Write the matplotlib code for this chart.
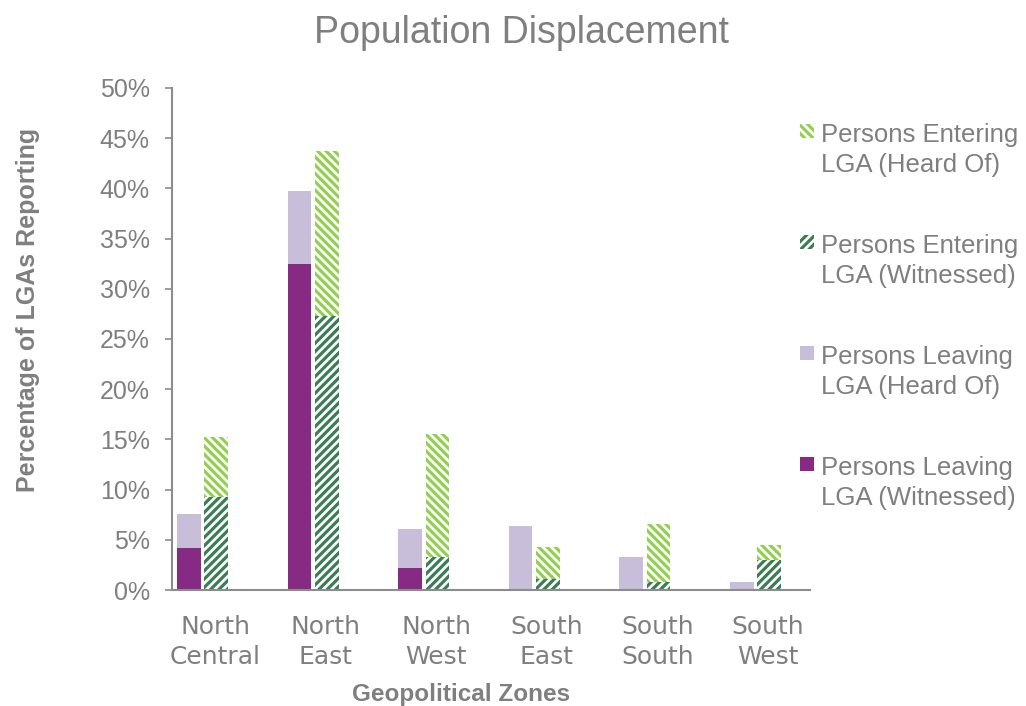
import numpy as np
import matplotlib.pyplot as plt
from matplotlib.patches import Rectangle

zones = ['North\nCentral', 'North\nEast', 'North\nWest', 'South\nEast', 'South\nSouth', 'South\nWest']
leaving_witnessed = [4.2, 32.5, 2.2, 0.0, 0.0, 0.0]
leaving_heard = [3.4, 7.2, 3.9, 6.4, 3.3, 0.8]
entering_witnessed = [9.3, 27.3, 3.3, 1.1, 0.8, 3.0]
entering_heard = [5.9, 16.4, 12.2, 3.2, 5.8, 1.5]

legend_labels = [('Persons Entering', 'LGA (Heard Of)'),
                 ('Persons Entering', 'LGA (Witnessed)'),
                 ('Persons Leaving', 'LGA (Heard Of)'),
                 ('Persons Leaving', 'LGA (Witnessed)')]

purple = '#862A84'
lavender = '#C9BEDA'
light_green = '#92D050'
dark_green = '#3C7D55'
grey = '#7F7F7F'

plt.rcParams['hatch.linewidth'] = 2.3
plt.rcParams['font.family'] = ['Liberation Sans', 'DejaVu Sans']

W, H = 1026, 706
fig = plt.figure(figsize=(W / 100, H / 100), dpi=100)
ax = fig.add_axes([172 / W, 1 - 590 / H, (810 - 172) / W, (590 - 88) / H])

x = np.arange(len(zones))
w = 0.2125
off = 0.124

ax.bar(x - off, leaving_witnessed, w, color=purple, linewidth=0)
ax.bar(x - off, leaving_heard, w, bottom=leaving_witnessed, color=lavender, linewidth=0)
ax.bar(x + off, entering_witnessed, w, facecolor='white', edgecolor=dark_green,
       hatch='////', linewidth=0)
ax.bar(x + off, entering_heard, w, bottom=entering_witnessed, facecolor='white',
       edgecolor=light_green, hatch='\\\\\\\\', linewidth=0)

ax.set_xlim(-0.276, 5.493)
ax.set_ylim(0, 50)
ax.set_yticks(np.arange(0, 51, 5))
ax.set_yticklabels(['%d%%' % v for v in range(0, 51, 5)], fontsize=18, color=grey)
ax.set_xticks(x + 0.113)
ax.set_xticklabels(zones, fontsize=18, color=grey, family='DejaVu Sans', linespacing=1.3)
ax.tick_params(axis='x', length=0, pad=18)
ax.tick_params(axis='y', length=5, width=1.2, color='#8C8C8C', pad=11)

for s in ['top', 'right']:
    ax.spines[s].set_visible(False)
for s in ['left', 'bottom']:
    ax.spines[s].set_color('#8C8C8C')
    ax.spines[s].set_linewidth(1.5)

fig.text(28 / W, 1 - 310 / H, 'Percentage of LGAs Reporting', rotation=90,
         ha='center', va='center', fontsize=18, color=grey, fontweight='bold')
fig.text(461 / W, 1 - 701 / H, 'Geopolitical Zones', ha='center', va='baseline',
         fontsize=17.5, color=grey, fontweight='bold')
fig.text(522 / W, 1 - 43 / H, 'Population Displacement', ha='center', va='baseline',
         fontsize=27, color=grey)

# legend drawn by hand so the swatch sits next to the first line
swatches = [dict(facecolor='white', edgecolor=light_green, hatch='\\\\\\\\'),
            dict(facecolor='white', edgecolor=dark_green, hatch='////'),
            dict(facecolor=lavender, edgecolor=lavender),
            dict(facecolor=purple, edgecolor=purple)]
for i, (l1, l2) in enumerate(legend_labels):
    base = 142 + 111 * i
    fig.add_artist(Rectangle((800 / W, 1 - (base - 4) / H), 14 / W, 14 / H,
                             transform=fig.transFigure, linewidth=0, **swatches[i]))
    fig.text(821 / W, 1 - base / H, l1, va='baseline', fontsize=18.5, color=grey)
    fig.text(821 / W, 1 - (base + 30) / H, l2, va='baseline', fontsize=18.5, color=grey)

fig.savefig('out.png', dpi=100)
